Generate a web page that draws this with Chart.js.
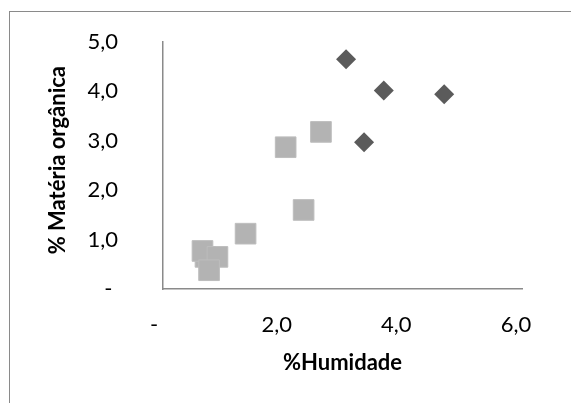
<!DOCTYPE html>
<html lang="pt">
<head>
<meta charset="utf-8">
<title>% Matéria orgânica vs %Humidade</title>
<script src="https://cdn.jsdelivr.net/npm/chart.js@4/dist/chart.umd.min.js"></script>
<style>
    html, body { margin: 0; padding: 0; background: #fff; overflow: hidden; }
    .frame {
        position: absolute; left: 9px; top: 11px;
        width: 640px; height: 460px;
        border: 1px solid #8a8a8a;
    }
    .wrap { position: absolute; left: 0; top: 0; width: 571px; height: 403px; }
</style>
</head>
<body>
<div class="frame"></div>
<div class="wrap"><canvas id="chartSolo" width="571" height="403"></canvas></div>
<script>
// ── Dados: amostras de solo ──────────────
const humidadeA = [3.06, 3.69, 4.70, 3.36];
const materiaA  = [4.65, 4.02, 3.94, 2.97];

const humidadeB = [2.64, 2.05, 2.35, 1.38, 0.71, 0.66, 0.91, 0.77];
const materiaB  = [3.18, 2.87, 1.60, 1.12, 0.65, 0.77, 0.65, 0.38];

const xTickLabels = ['- ', '2,0', '4,0', '6,0'];
const yTickLabels = ['- ', '1,0', '2,0', '3,0', '4,0', '5,0'];

const FONT = "Lato, 'Open Sans', sans-serif";

function toPoints(xs, ys) {
    return xs.map(function(x, i) { return { x: x, y: ys[i] }; });
}

const ctx = document.getElementById('chartSolo');

new Chart(ctx, {
    type: 'scatter',
    data: {
        datasets: [
            {
                label: 'Série 1',
                data: toPoints(humidadeA, materiaA),
                pointStyle: 'rectRot',
                pointRadius: 10,
                pointHoverRadius: 10,
                backgroundColor: '#5b5b5b',
                borderColor: '#5b5b5b',
                borderWidth: 0
            },
            {
                label: 'Série 2',
                data: toPoints(humidadeB, materiaB),
                pointStyle: 'rect',
                pointRadius: 14.6,
                pointHoverRadius: 14.6,
                backgroundColor: '#b3b3b3',
                borderColor: '#bdbdbd',
                borderWidth: 1
            }
        ]
    },
    options: {
        responsive: false,
        animation: false,
        devicePixelRatio: 1,
        layout: {
            autoPadding: false,
            padding: { left: 0, top: 42, right: 49, bottom: 0 }
        },
        plugins: {
            legend: { display: false },
            tooltip: { enabled: false }
        },
        scales: {
            x: {
                type: 'linear',
                position: 'bottom',
                min: 0,
                max: 6,
                grid: { display: false, drawTicks: false },
                border: { display: true, color: '#8a8a8a', width: 1.5 },
                ticks: {
                    stepSize: 2,
                    padding: 23,
                    labelOffset: -6,
                    font: { family: FONT, size: 22 },
                    color: '#000',
                    callback: function(val, i) { return xTickLabels[i]; }
                },
                title: {
                    display: true,
                    text: '%Humidade',
                    color: '#000',
                    font: { family: FONT, size: 22, weight: 'bold' },
                    padding: { top: 0, bottom: 27 }
                },
                afterFit: function(scale) { scale.height = 114; }
            },
            y: {
                type: 'linear',
                position: 'left',
                min: 0,
                max: 5,
                grid: { display: false, drawTicks: false },
                border: { display: true, color: '#8a8a8a', width: 1.5 },
                ticks: {
                    stepSize: 1,
                    padding: 45,
                    font: { family: FONT, size: 22 },
                    color: '#000',
                    callback: function(val, i) { return yTickLabels[i]; }
                },
                title: {
                    display: true,
                    text: '  % Matéria orgânica',
                    color: '#000',
                    font: { family: FONT, size: 22, weight: 'bold' },
                    padding: { top: 45, bottom: 0 }
                },
                afterFit: function(scale) {
                    // a folga dos ticks não deve empurrar a área do gráfico
                    scale.width = 163;
                    scale.paddingTop = 0;
                    scale.paddingBottom = 0;
                }
            }
        }
    }
});
</script>
</body>
</html>
